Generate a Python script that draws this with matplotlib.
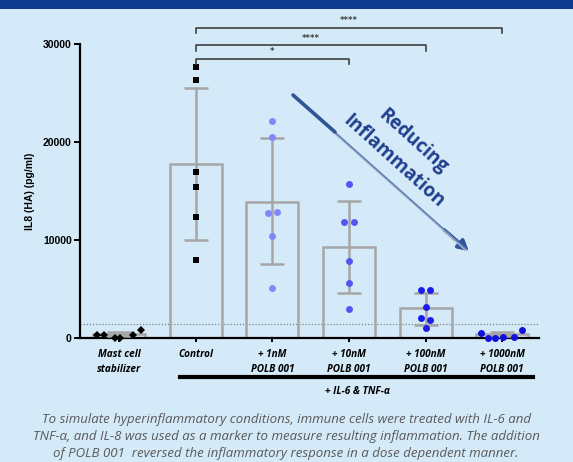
import matplotlib
matplotlib.use("Agg")
import matplotlib.pyplot as plt
from matplotlib.lines import Line2D
from matplotlib.patches import Rectangle, FancyArrowPatch

# ---------------- data ----------------
categories = ["Mast cell\nstabilizer", "Control", "+ 1nM\nPOLB 001", "+ 10nM\nPOLB 001",
              "+ 100nM\nPOLB 001", "+ 1000nM\nPOLB 001"]
means = [450, 17800, 13950, 9350, 3050, 450]
sd_upper = [600, 25600, 20400, 14000, 4650, 650]
sd_lower = [250, 10000, 7600, 4600, 1330, 250]

mast_vals = [300, 300, 30, 0, 300, 820]
control_vals = [27650, 26400, 17000, 15400, 12400, 8000]
nm1_vals = [22200, 20500, 12800, 12900, 10400, 5080]
nm10_vals = [15700, 11900, 11900, 7870, 5590, 2930]
nm100_vals = [4950, 4950, 3200, 2050, 1850, 990]
nm1000_vals = [480, 20, 30, 60, 100, 820]

mast_off = [-0.29, -0.2, -0.05, 0.01, 0.18, 0.29]
control_off = [0, 0, 0, 0, 0, 0]
nm1_off = [0, 0, -0.06, 0.06, 0, 0]
nm10_off = [0, -0.06, 0.06, 0, 0, 0]
nm100_off = [-0.06, 0.06, 0, -0.06, 0.06, 0]
nm1000_off = [-0.28, -0.18, -0.09, 0.01, 0.15, 0.26]

threshold = 1430
yticks = [0, 10000, 20000, 30000]
sig_pairs = [(1, 3, "*", 28530), (1, 4, "****", 29900), (1, 5, "****", 31700)]

caption = ("To simulate hyperinflammatory conditions, immune cells were treated with IL-6 and\n"
           "TNF-\u03b1, and IL-8 was used as a marker to measure resulting inflammation. The addition\n"
           "of POLB 001  reversed the inflammatory response in a dose dependent manner.")

# ---------------- figure ----------------
W, H = 573, 462
bg = "#D5EAF8"
fig = plt.figure(figsize=(W / 100, H / 100), dpi=100, facecolor=bg)
fig.patches.append(Rectangle((0, 1 - 9 / H), 1, 9 / H, transform=fig.transFigure,
                             facecolor="#0C3A8F", edgecolor="none"))

ax = fig.add_axes([80 / W, 1 - 338 / H, (539 - 80) / W, (338 - 44.5) / H])
ax.set_facecolor("none")
ax.set_xlim(-0.51, 5.48)
ax.set_ylim(0, 30000)

bar_col = "#A6A6A6"
x = list(range(len(categories)))
ax.bar(x, means, width=0.68, facecolor="none", edgecolor=bar_col, linewidth=1.8, zorder=2)
yerr = [[m - l for m, l in zip(means, sd_lower)], [u - m for m, u in zip(means, sd_upper)]]
ax.errorbar(x, means, yerr=yerr, fmt="none", ecolor=bar_col, elinewidth=1.8,
            capsize=8.5, capthick=1.8, zorder=3)

ax.axhline(threshold, color="#7F7F7F", linestyle=(0, (1, 1.5)), linewidth=0.9, zorder=1)

groups = [
    (mast_vals, mast_off, "D", "black", 4.0),
    (control_vals, control_off, "s", "black", 4.5),
    (nm1_vals, nm1_off, "o", "#8585FA", 5.0),
    (nm10_vals, nm10_off, "o", "#5555F2", 5.0),
    (nm100_vals, nm100_off, "o", "#1C1CEA", 5.0),
    (nm1000_vals, nm1000_off, "o", "#1010E0", 5.0),
]
for i, (vals, offs, mk, col, ms) in enumerate(groups):
    ax.plot([i + o for o in offs], vals, linestyle="none", marker=mk, color=col,
            markersize=ms, markeredgewidth=0, zorder=4, clip_on=False)

# axes styling
for s in ["top", "right"]:
    ax.spines[s].set_visible(False)
ax.spines["left"].set_linewidth(1.6)
ax.spines["bottom"].set_linewidth(1.6)
ax.set_yticks(yticks)
ax.set_yticklabels([str(v) for v in yticks], fontsize=7.5, fontweight="bold",
                   family="Liberation Sans")
ax.tick_params(axis="y", length=4, width=1.4, pad=2)
ax.set_xticks(x)
ax.set_xticklabels(categories, fontsize=7.2, fontweight="bold", style="italic",
                   family="Open Sans", linespacing=1.45)
ax.tick_params(axis="x", length=3, width=1.4, pad=5)
ax.set_ylabel("IL8 (HA) (pg/ml)", fontsize=7.5, fontweight="bold", family="Liberation Sans",
              labelpad=6)

# significance brackets
for a, b, lab, yv in sig_pairs:
    leg = 550
    ax.plot([a, a, b, b], [yv - leg, yv, yv, yv - leg], color="#404040", linewidth=1.2,
            clip_on=False, zorder=5)
    ax.text((a + b) / 2, yv + 250, lab, ha="center", va="bottom", fontsize=6,
            fontweight="bold", color="#404040", clip_on=False)

# treatment line
fig.add_artist(Line2D([180 / W, 533 / W], [1 - 377 / H, 1 - 377 / H], color="black",
                      linewidth=3, transform=fig.transFigure))
fig.text(357 / W, 1 - 391 / H, "+ IL-6 & TNF-\u03b1", ha="center", va="center", fontsize=7.2,
         fontweight="bold", style="italic", family="Open Sans")

# arrow (thick at both ends, fading in the middle)
def fxy(px, py):
    return (px / W, 1 - py / H)

fig.add_artist(Line2D([294 / W, 466 / W], [1 - 97 / H, 1 - 250 / H], color="#B5C6D8",
                      linewidth=1.6, transform=fig.transFigure))
fig.add_artist(Line2D([293 / W, 466 / W], [1 - 95 / H, 1 - 249 / H], color="#5F7FB3",
                      linewidth=1.2, transform=fig.transFigure))
fig.add_artist(Line2D([293 / W, 335 / W], [1 - 95 / H, 1 - 132 / H], color="#2F5597",
                      linewidth=2.6, solid_capstyle="round", transform=fig.transFigure))
fig.add_artist(FancyArrowPatch(fxy(442, 228), fxy(471, 253), transform=fig.transFigure,
                               arrowstyle="-|>,head_length=0.55,head_width=0.3",
                               color="#2F5597", linewidth=2.6, mutation_scale=11))

fig.text(*fxy(413, 141), "Reducing", rotation=-42, ha="center", va="center",
         rotation_mode="anchor", fontsize=13.5, fontweight="bold", color="#1F3F8F",
         family="Open Sans")
fig.text(*fxy(394, 161), "Inflammation", rotation=-42, ha="center", va="center",
         rotation_mode="anchor", fontsize=13.5, fontweight="bold", color="#1F3F8F",
         family="Open Sans")

# caption
fig.text(286 / W, 1 - 436.5 / H, caption, ha="center", va="center", fontsize=9.5,
         style="italic", color="#595959", family="Open Sans", linespacing=1.42)

fig.savefig("out.png", dpi=100, facecolor=bg)
